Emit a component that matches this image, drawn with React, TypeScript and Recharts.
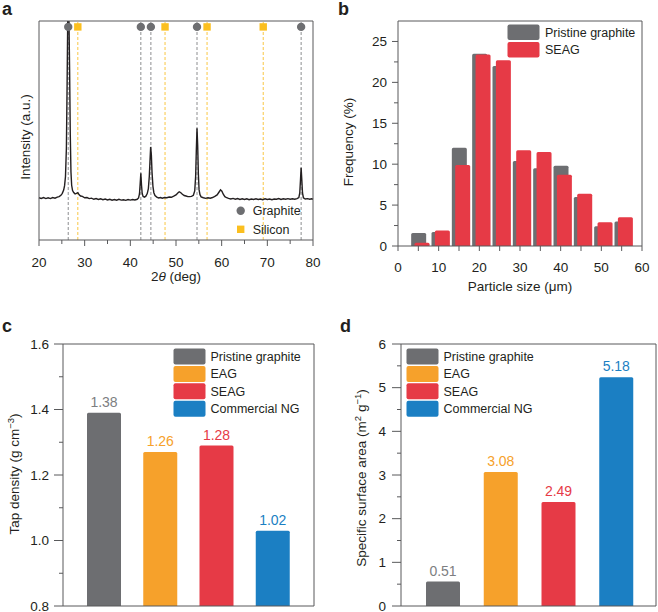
import React from 'react';
import {
  ComposedChart,
  BarChart,
  Bar,
  Line,
  Scatter,
  XAxis,
  YAxis,
  ZAxis,
  ReferenceLine,
  Legend,
  Label,
  LabelList,
  Cell,
} from 'recharts';

const FONT = '"Liberation Sans", Arial, Helvetica, sans-serif';
const INK = '#231f20';
const AXIS = '#58595b';
const GRAY = '#6d6e71';
const ORANGE = '#f6a12b';
const RED = '#e63a46';
const BLUE = '#1b7fc3';
const YELLOW = '#fbbf1f';

// a: XRD pattern, [2theta, intensity a.u.]
const xrdPattern: [number, number][] = [
  [20.0, 19.3], [20.5, 19.0], [21.0, 19.4], [21.5, 18.9], [22.0, 19.3], [22.5, 18.9],
  [23.0, 19.4], [23.5, 19.1], [24.0, 19.6], [24.4, 19.8], [24.8, 20.4], [25.1, 21.3],
  [25.4, 22.8], [25.6, 24.8], [25.8, 29], [26.0, 42], [26.15, 70], [26.3, 103],
  [26.55, 103], [26.7, 78], [26.85, 48], [27.0, 31], [27.15, 25], [27.35, 22.6],
  [27.6, 21.7], [27.9, 21.0], [28.2, 21.3], [28.5, 21.6], [28.8, 20.6], [29.1, 20.1],
  [29.5, 19.9], [30.0, 19.3], [30.5, 19.4], [31.0, 18.9], [31.5, 19.1], [32.0, 18.6],
  [32.5, 18.9], [33.0, 18.5], [33.5, 18.8], [34.0, 18.4], [34.5, 18.7], [35.0, 18.3],
  [35.5, 18.6], [36.0, 18.2], [36.5, 18.5], [37.0, 18.2], [37.5, 18.6], [38.0, 18.2],
  [38.5, 18.4], [39.0, 18.1], [39.5, 18.5], [40.0, 18.2], [40.5, 18.5], [41.0, 18.3],
  [41.5, 18.6], [41.8, 19.2], [42.0, 21.0], [42.15, 25.5], [42.3, 30.5], [42.45, 25],
  [42.6, 21.2], [42.8, 19.9], [43.1, 19.6], [43.4, 20.0], [43.7, 21.2], [43.95, 23.5],
  [44.15, 29], [44.3, 36], [44.45, 42.5], [44.6, 39], [44.75, 31], [44.95, 24.5],
  [45.15, 21.6], [45.4, 20.3], [45.8, 19.6], [46.2, 19.2], [46.6, 19.4], [47.0, 19.1],
  [47.5, 19.4], [48.0, 19.3], [48.5, 19.6], [49.0, 19.5], [49.5, 20.0], [50.0, 20.6],
  [50.4, 21.5], [50.7, 22.0], [51.0, 21.7], [51.4, 20.9], [51.8, 20.3], [52.2, 20.1],
  [52.6, 19.8], [53.0, 19.8], [53.4, 19.9], [53.8, 20.4], [54.1, 22.4], [54.3, 29],
  [54.45, 41], [54.6, 51], [54.75, 43], [54.9, 30], [55.05, 23], [55.25, 20.7],
  [55.5, 19.7], [56.0, 19.3], [56.5, 19.0], [57.0, 19.3], [57.5, 19.1], [58.0, 19.4],
  [58.5, 19.9], [59.0, 20.6], [59.4, 21.8], [59.75, 22.9], [60.05, 22.3], [60.35, 20.9],
  [60.7, 19.8], [61.1, 19.3], [61.5, 19.0], [62.0, 18.7], [62.5, 19.0], [63.0, 18.6],
  [63.5, 18.9], [64.0, 18.5], [64.5, 18.8], [65.0, 18.5], [65.5, 18.8], [66.0, 18.4],
  [66.5, 18.7], [67.0, 18.5], [67.5, 18.8], [68.0, 18.5], [68.5, 18.7], [69.0, 18.4],
  [69.5, 18.8], [70.0, 18.5], [70.5, 18.7], [71.0, 18.4], [71.5, 18.7], [72.0, 18.6],
  [72.5, 18.9], [73.0, 18.5], [73.5, 18.8], [74.0, 18.6], [74.5, 18.9], [75.0, 18.6],
  [75.5, 18.8], [76.0, 18.6], [76.5, 18.9], [76.9, 19.4], [77.1, 21.5], [77.25, 27],
  [77.4, 33], [77.55, 27.5], [77.7, 21.5], [77.9, 19.3], [78.3, 18.7], [78.8, 18.9],
  [79.3, 18.6], [79.7, 18.8], [80.0, 18.6],
];
const graphitePeaks = [26.4, 42.3, 44.5, 54.6, 77.4];
const siliconPeaks = [28.5, 47.6, 56.8, 69.1];
const markerLevel = 97.3;
const angleTicks = [20, 25, 30, 35, 40, 45, 50, 55, 60, 65, 70, 75, 80];

// b: particle size distribution
const sizeBins = [5, 10, 15, 20, 25, 30, 35, 40, 45, 50, 55];
const pristineFreq = [1.6, 1.7, 12.0, 23.5, 22.0, 10.4, 9.5, 9.8, 6.0, 2.4, 3.0];
const seagFreq = [0.4, 1.9, 9.9, 23.4, 22.7, 11.7, 11.5, 8.7, 6.4, 2.9, 3.5];
const sizeTicks = [0, 5, 10, 15, 20, 25, 30, 35, 40, 45, 50, 55, 60];
const freqTicks = [0, 2.5, 5, 7.5, 10, 12.5, 15, 17.5, 20, 22.5, 25];

// c, d: tap density and specific surface area
const samples = ['Pristine graphite', 'EAG', 'SEAG', 'Commercial NG'];
const sampleColors = [GRAY, ORANGE, RED, BLUE];
const valueColors = ['#7d7e81', ORANGE, RED, BLUE];
const tapDensity = [1.39, 1.27, 1.29, 1.03];
const tapLabels = ['1.38', '1.26', '1.28', '1.02'];
const tapTicks = [0.8, 0.9, 1.0, 1.1, 1.2, 1.3, 1.4, 1.5, 1.6];
const surfaceArea = [0.56, 3.07, 2.38, 5.24];
const surfaceLabels = ['0.51', '3.08', '2.49', '5.18'];
const areaTicks = [0, 0.5, 1, 1.5, 2, 2.5, 3, 3.5, 4, 4.5, 5, 5.5, 6];

const xrdData = xrdPattern.map(([angle, intensity]) => ({ angle, intensity }));
const graphiteMarks = graphitePeaks.map((angle) => ({ angle, intensity: markerLevel }));
const siliconMarks = siliconPeaks.map((angle) => ({ angle, intensity: markerLevel }));
const psdData = sizeBins.map((size, i) => ({ size, pristine: pristineFreq[i], seag: seagFreq[i] }));
const tapData = samples.map((name, i) => ({ name, value: tapDensity[i], label: tapLabels[i] }));
const areaData = samples.map((name, i) => ({ name, value: surfaceArea[i], label: surfaceLabels[i] }));

const txt = { fontFamily: FONT, fill: INK };

const bottomTick =
  (isMajor: (v: number) => boolean, majorLen: number, minorLen: number, labelDy: number) =>
  (props: any) => {
    const { x, y, payload } = props;
    const m = isMajor(payload.value);
    return (
      <g>
        <line x1={x} x2={x} y1={y} y2={y + (m ? majorLen : minorLen)} stroke={AXIS} />
        {m && (
          <text x={x} y={y + labelDy} textAnchor="middle" fontSize={13.5} {...txt}>
            {payload.value}
          </text>
        )}
      </g>
    );
  };

const leftTick =
  (isMajor: (v: number) => boolean, majorLen: number, minorLen: number, gap: number, fmt: (v: number) => string) =>
  (props: any) => {
    const { x, y, payload } = props;
    const m = isMajor(payload.value);
    return (
      <g>
        <line x1={x - (m ? majorLen : minorLen)} x2={x} y1={y} y2={y} stroke={AXIS} />
        {m && (
          <text x={x - majorLen - gap} y={y + 4.8} textAnchor="end" fontSize={13.5} {...txt}>
            {fmt(payload.value)}
          </text>
        )}
      </g>
    );
  };

const panelLetter = (letter: string, x: number, y: number) => () => (
  <text x={x} y={y} fontSize={18} fontWeight="bold" {...txt}>
    {letter}
  </text>
);

const vTitle = (x: number, y: number, children: React.ReactNode) => () => (
  <text x={x} y={y} transform={`rotate(-90 ${x} ${y})`} textAnchor="middle" fontSize={13.5} {...txt}>
    {children}
  </text>
);

const sampleLegend = (left: number) => (
  <Legend
    layout="horizontal"
    verticalAlign="middle"
    align="center"
    wrapperStyle={{ left, top: 48, width: 150, height: 72 }}
    content={() => (
      <svg width={150} height={72}>
        {samples.map((s, i) => (
          <g key={s}>
            <rect x={0.5} y={i * 17.4 + 0.5} width={32} height={16} rx={2} fill={sampleColors[i]} />
            <text x={37.5} y={i * 17.4 + 12.8} fontSize={12.5} {...txt}>
              {s}
            </text>
          </g>
        ))}
      </svg>
    )}
  />
);

const valueLabel = (props: any) => (
  <text
    x={props.x + props.width / 2}
    y={props.y - 6}
    textAnchor="middle"
    fontSize={14}
    fontFamily={FONT}
    fill={valueColors[props.index]}
  >
    {props.value}
  </text>
);

const frame = { stroke: AXIS, strokeWidth: 1 };

const PanelA = () => (
  <ComposedChart width={329} height={300} data={xrdData} margin={{ top: 20, right: 15, bottom: 0, left: 0 }}>
    <XAxis
      dataKey="angle"
      type="number"
      domain={[20, 80]}
      ticks={angleTicks}
      interval={0}
      height={60}
      tickSize={0}
      tickMargin={0}
      tickLine={false}
      axisLine={frame}
      tick={bottomTick((v) => v % 10 === 0, 6, 4, 27)}
    >
      <Label
        content={() => (
          <text x={176} y={281} textAnchor="middle" fontSize={13.5} {...txt}>
            2<tspan fontStyle="italic">θ</tspan> (deg)
          </text>
        )}
      />
    </XAxis>
    <XAxis xAxisId="top" orientation="top" dataKey="angle" type="number" domain={[20, 80]} height={1} tick={false} tickLine={false} axisLine={frame}>
      <Label content={panelLetter('a', 2, 15)} />
    </XAxis>
    <YAxis dataKey="intensity" type="number" domain={[0, 100]} allowDataOverflow width={39} tick={false} tickLine={false} axisLine={frame}>
      <Label content={vTitle(29.5, 137, 'Intensity (a.u.)')} />
    </YAxis>
    <YAxis yAxisId="right" orientation="right" type="number" domain={[0, 100]} width={1} tick={false} tickLine={false} axisLine={frame} />
    <ZAxis range={[55, 55]} />
    {graphitePeaks.map((p) => (
      <ReferenceLine key={`g${p}`} x={p} stroke="#8d8e90" strokeDasharray="3 2" />
    ))}
    {siliconPeaks.map((p) => (
      <ReferenceLine key={`s${p}`} x={p} stroke="#f9c744" strokeDasharray="3 2" />
    ))}
    <Line dataKey="intensity" type="linear" dot={false} stroke={INK} strokeWidth={1.4} isAnimationActive={false} />
    <Scatter data={graphiteMarks} shape="circle" fill={GRAY} isAnimationActive={false} />
    <Scatter data={siliconMarks} shape="square" fill={YELLOW} isAnimationActive={false} />
    <Legend
      layout="horizontal"
      verticalAlign="middle"
      align="center"
      wrapperStyle={{ left: 230, top: 200, width: 90, height: 40 }}
      content={() => (
        <svg width={90} height={40}>
          <circle cx={10.7} cy={10.7} r={4.2} fill={GRAY} />
          <text x={22.7} y={15.2} fontSize={12.5} {...txt}>Graphite</text>
          <rect x={7} y={25.6} width={7.4} height={7.4} fill={YELLOW} />
          <text x={22.7} y={33.8} fontSize={12.5} {...txt}>Silicon</text>
        </svg>
      )}
    />
  </ComposedChart>
);

const PanelB = () => (
  <BarChart width={329} height={300} data={psdData} margin={{ top: 20, right: 15, bottom: 0, left: 0 }}>
    <XAxis
      dataKey="size"
      type="number"
      domain={[0, 60]}
      ticks={sizeTicks}
      interval={0}
      height={54}
      tickSize={0}
      tickMargin={0}
      tickLine={false}
      axisLine={frame}
      tick={bottomTick((v) => v % 10 === 0, 5, 5, 26)}
    >
      <Label
        content={() => (
          <text x={191} y={291} textAnchor="middle" fontSize={13.5} {...txt}>
            Particle size (μm)
          </text>
        )}
      />
    </XAxis>
    <XAxis xAxisId="seag" dataKey="size" type="number" domain={[-0.83, 59.17]} hide />
    <XAxis xAxisId="top" orientation="top" dataKey="size" type="number" domain={[0, 60]} height={1} tick={false} tickLine={false} axisLine={frame}>
      <Label content={panelLetter('b', 9, 15)} />
    </XAxis>
    <YAxis
      type="number"
      domain={[0, 27.5]}
      ticks={freqTicks}
      interval={0}
      width={69}
      tickSize={0}
      tickMargin={0}
      tickLine={false}
      axisLine={frame}
      tick={leftTick((v) => v % 5 === 0, 6, 4, 5, (v) => String(v))}
    >
      <Label content={vTitle(23.5, 142, 'Frequency (%)')} />
    </YAxis>
    <YAxis yAxisId="right" orientation="right" type="number" domain={[0, 27.5]} width={1} tick={false} tickLine={false} axisLine={frame} />
    <Bar dataKey="pristine" fill={GRAY} barSize={15} radius={[1.5, 1.5, 0, 0]} isAnimationActive={false} />
    <Bar dataKey="seag" xAxisId="seag" fill={RED} barSize={15} radius={[1.5, 1.5, 0, 0]} isAnimationActive={false} />
    <Legend
      layout="horizontal"
      verticalAlign="middle"
      align="center"
      wrapperStyle={{ left: 177.5, top: 24, width: 140, height: 36 }}
      content={() => (
        <svg width={140} height={36}>
          <rect x={0.5} y={0.5} width={32} height={15.5} rx={2} fill={GRAY} />
          <text x={38} y={12.6} fontSize={12.5} {...txt}>Pristine graphite</text>
          <rect x={0.5} y={18} width={32} height={15.5} rx={2} fill={RED} />
          <text x={38} y={30.2} fontSize={12.5} {...txt}>SEAG</text>
        </svg>
      )}
    />
  </BarChart>
);

const PanelC = () => (
  <BarChart width={329} height={312} data={tapData} margin={{ top: 43, right: 14, bottom: 0, left: 0 }}>
    <XAxis dataKey="name" height={6} padding={{ left: 13, right: 13 }} tick={false} tickLine={false} axisLine={frame} />
    <XAxis xAxisId="top" orientation="top" dataKey="name" height={1} tick={false} tickLine={false} axisLine={frame}>
      <Label content={panelLetter('c', 2, 32)} />
    </XAxis>
    <YAxis
      type="number"
      domain={[0.8, 1.6]}
      ticks={tapTicks}
      interval={0}
      width={63}
      tickSize={0}
      tickMargin={0}
      tickLine={false}
      axisLine={frame}
      tick={leftTick((v) => Math.round(v * 10) % 2 === 0, 9, 4, 5, (v) => v.toFixed(1))}
    >
      <Label
        content={vTitle(
          19,
          174,
          <>
            Tap density (g cm<tspan dy={-5} fontSize={9.5}>−3</tspan>
            <tspan dy={5}>)</tspan>
          </>
        )}
      />
    </YAxis>
    <YAxis yAxisId="right" orientation="right" type="number" domain={[0.8, 1.6]} width={1} tick={false} tickLine={false} axisLine={frame} />
    <Bar dataKey="value" barSize={34} radius={[1.5, 1.5, 0, 0]} isAnimationActive={false}>
      {tapData.map((d, i) => (
        <Cell key={d.name} fill={sampleColors[i]} />
      ))}
      <LabelList dataKey="label" content={valueLabel} />
    </Bar>
    {sampleLegend(173)}
  </BarChart>
);

const PanelD = () => (
  <BarChart width={329} height={312} data={areaData} margin={{ top: 43, right: 1, bottom: 0, left: 0 }}>
    <XAxis dataKey="name" height={6} padding={{ left: 13, right: 11 }} tick={false} tickLine={false} axisLine={frame} />
    <XAxis xAxisId="top" orientation="top" dataKey="name" height={1} tick={false} tickLine={false} axisLine={frame}>
      <Label content={panelLetter('d', 11, 32)} />
    </XAxis>
    <YAxis
      type="number"
      domain={[0, 6]}
      ticks={areaTicks}
      interval={0}
      width={72}
      tickSize={0}
      tickMargin={0}
      tickLine={false}
      axisLine={frame}
      tick={leftTick((v) => Number.isInteger(v), 9, 4, 6, (v) => String(v))}
    >
      <Label
        content={vTitle(
          36.5,
          178,
          <>
            Specific surface area (m<tspan dy={-5} fontSize={9.5}>2</tspan>
            <tspan dy={5}> g</tspan>
            <tspan dy={-5} fontSize={9.5}>−1</tspan>
            <tspan dy={5}>)</tspan>
          </>
        )}
      />
    </YAxis>
    <YAxis yAxisId="right" orientation="right" type="number" domain={[0, 6]} width={1} tick={false} tickLine={false} axisLine={frame} />
    <Bar dataKey="value" barSize={34} radius={[1.5, 1.5, 0, 0]} isAnimationActive={false}>
      {areaData.map((d, i) => (
        <Cell key={d.name} fill={sampleColors[i]} />
      ))}
      <LabelList dataKey="label" content={valueLabel} />
    </Bar>
    {sampleLegend(77)}
  </BarChart>
);

export default function App() {
  const cell = (left: number, top: number): React.CSSProperties => ({ position: 'absolute', left, top });
  return (
    <div style={{ position: 'absolute', left: 0, top: 0, width: 658, height: 612, background: '#fff', overflow: 'hidden' }}>
      <div style={cell(0, 0)}>
        <PanelA />
      </div>
      <div style={cell(329, 0)}>
        <PanelB />
      </div>
      <div style={cell(0, 300)}>
        <PanelC />
      </div>
      <div style={cell(329, 300)}>
        <PanelD />
      </div>
    </div>
  );
}
